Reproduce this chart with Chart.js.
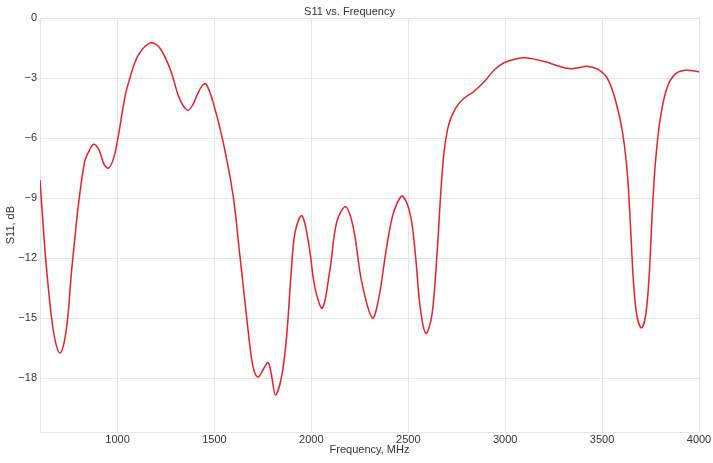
<!DOCTYPE html>
<html>
<head>
<meta charset="utf-8">
<script src="https://cdn.jsdelivr.net/npm/chart.js@4"></script>
<style>
  html, body { margin: 0; padding: 0; background: #fff; }
  #wrap { width: 713px; height: 463px; }
</style>
</head>
<body>
<div id="wrap"><canvas id="s11chart"></canvas></div>
<script>
// S11 sweep (MHz, dB)
var freqs = [600, 615, 632, 658, 680, 703, 725, 744, 761, 780, 796, 830, 855, 878, 905, 930, 954, 980,
    1002, 1040, 1065, 1088, 1110, 1140, 1175, 1219, 1270, 1313, 1340, 1365, 1390, 1408, 1435, 1456, 1493, 1545, 1596,
    1631, 1665, 1691, 1710, 1727, 1750, 1777, 1795, 1815, 1848, 1873, 1895, 1916, 1951, 1985, 2019, 2057,
    2097, 2131, 2177, 2217, 2260, 2315, 2348, 2382, 2416, 2445, 2471, 2511, 2537, 2562, 2591, 2622, 2648,
    2666, 2683, 2708, 2743, 2786, 2837, 2899, 2942, 2994, 3050, 3105, 3208, 3270, 3329, 3380, 3420, 3477,
    3528, 3571, 3605, 3631, 3648, 3662, 3679, 3703, 3725, 3743, 3760, 3777, 3803, 3837, 3880, 3932, 4000];
var s11 = [-8.1, -10.2, -12.35, -14.85, -16.2, -16.75, -16.2, -14.9, -12.85, -11.0, -9.5, -7.2, -6.6, -6.3, -6.6, -7.3, -7.5, -7.0,
    -6.0, -3.85, -2.95, -2.25, -1.8, -1.43, -1.23, -1.5, -2.5, -3.85, -4.4, -4.6, -4.3, -3.9, -3.4, -3.28, -4.2, -6.2, -8.85,
    -11.85, -14.85, -17.0, -17.8, -17.95, -17.6, -17.23, -17.9, -18.85, -17.85, -15.85, -12.85, -10.7, -9.88, -11.2, -13.5, -14.5,
    -12.5, -10.2, -9.43, -10.5, -13.2, -15.0, -14.0, -11.85, -10.0, -9.2, -8.9, -9.85, -11.85, -14.5, -15.77, -14.85, -11.85,
    -9.0, -6.85, -5.35, -4.52, -4.02, -3.68, -3.1, -2.6, -2.23, -2.05, -1.98, -2.18, -2.38, -2.52, -2.48, -2.4, -2.55,
    -3.02, -4.18, -5.68, -7.85, -10.7, -13.2, -14.85, -15.5, -14.85, -12.85, -9.5, -7.0, -4.85, -3.43, -2.77, -2.6, -2.68];

// tick values on each axis
var xTicks = [1000, 1500, 2000, 2500, 3000, 3500, 4000];
var yTicks = [-18, -15, -12, -9, -6, -3, 0];

var points = freqs.map(function (f, i) { return { x: f, y: s11[i] }; });

var textColor = '#333333';
var gridColor = '#e6e6e6';
var fontFamily = '"Liberation Sans", Arial, sans-serif';

const ctx = document.getElementById('s11chart').getContext('2d');

const s11chart = new Chart(ctx, {
    type: 'line',
    data: {
        datasets: [
            {
                label: 'S11',
                data: points,
                borderColor: '#e8202a',
                borderWidth: 1.5,
                pointRadius: 0,
                fill: false,
                tension: 0.35,
            },
        ],
    },
    options: {
        responsive: true,
        maintainAspectRatio: false,
        animation: false,
        layout: {
            padding: { top: 0, right: 14, bottom: 0, left: 0 }
        },
        plugins: {
            legend: { display: false },
            tooltip: { enabled: false },
            title: {
                display: true,
                text: 'S11 vs. Frequency',
                color: textColor,
                font: { family: fontFamily, size: 11, weight: 'normal' },
                padding: { top: 5, bottom: 0 }
            }
        },
        scales: {
            x: {
                type: 'linear',
                min: 600,
                max: 4000,
                afterFit: function (scale) { scale.height = 31; },
                afterBuildTicks: function (scale) {
                    scale.ticks = xTicks.map(function (v) { return { value: v }; });
                },
                ticks: {
                    color: textColor,
                    padding: 1,
                    maxRotation: 0,
                    autoSkip: false,
                    font: { family: fontFamily, size: 11 },
                    callback: function (v) { return String(v); }
                },
                grid: { color: gridColor, drawTicks: false },
                border: { color: gridColor },
                title: {
                    display: true,
                    text: 'Frequency, MHz',
                    color: textColor,
                    font: { family: fontFamily, size: 11 },
                    padding: { top: 0, bottom: 6 }
                }
            },
            y: {
                min: -20.7,
                max: 0,
                afterFit: function (scale) { scale.width = 40; },
                afterBuildTicks: function (scale) {
                    scale.ticks = yTicks.map(function (v) { return { value: v }; });
                },
                ticks: {
                    color: textColor,
                    padding: 3,
                    autoSkip: false,
                    font: { family: fontFamily, size: 11 },
                    callback: function (v) { return String(v).replace('-', '\u2212'); }
                },
                grid: { color: gridColor, drawTicks: false },
                border: { color: gridColor },
                title: {
                    display: true,
                    text: 'S11, dB',
                    color: textColor,
                    font: { family: fontFamily, size: 11 },
                    padding: { top: 4, bottom: 0 }
                }
            },
        },
    },
});
</script>
</body>
</html>
